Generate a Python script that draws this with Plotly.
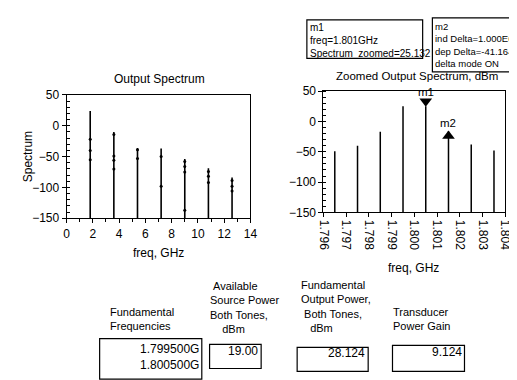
import plotly.graph_objects as go

# ---------------- data ----------------
harm_freq_ghz = [1.8, 3.6, 5.4, 7.2, 9.0, 10.8, 12.6]
harm_spectrum = [24, -10, -36, -37, -54, -69, -84]

# other tones inside each harmonic cluster (dots along the lines)
tone_freq_ghz = [1.8, 1.8, 1.8, 3.6, 3.6, 3.6, 3.6, 5.4, 5.4, 7.2, 7.2,
                 9.0, 9.0, 9.0, 9.0, 10.8, 10.8, 10.8, 12.6, 12.6, 12.6]
tone_spectrum = [-22, -40, -55, -14, -49, -56, -70, -39, -53, -50, -98,
                 -58, -66, -75, -137, -74, -82, -92, -89, -98, -106]

zoom_freq_ghz = [1.7965, 1.7975, 1.7985, 1.7995, 1.8005, 1.8015, 1.8025, 1.8035]
zoom_spectrum = [-49, -40, -17, 25.1, 25.132, -16.032, -38, -48]

x_ticks_left = [0, 2, 4, 6, 8, 10, 12, 14]
x_ticks_right = [1.796, 1.797, 1.798, 1.799, 1.800, 1.801, 1.802, 1.803, 1.804]
y_ticks = [-150, -100, -50, 0, 50]

m1_index = 4
m2_index = 5
m1_freq_label = "1.801GHz"
ind_delta = "1.000E6"

fund_freqs = ["1.799500G", "1.800500G"]
source_power_dbm = "19.00"
output_power_dbm = "28.124"
transducer_gain = "9.124"

# ---------------- helpers ----------------
W, H = 517, 380
FONT = "Liberation Sans, Arial, sans-serif"


def px(x):
    return x / W


def py(y):
    return 1 - y / H


def stems(xs, ys, base):
    sx, sy = [], []
    for x, y in zip(xs, ys):
        sx += [x, x, None]
        sy += [base, y, None]
    return sx, sy


fig = go.Figure()

# left plot
lx, ly = stems(harm_freq_ghz, harm_spectrum, y_ticks[0])
fig.add_trace(go.Scatter(x=lx, y=ly, mode="lines", line=dict(color="black", width=1.6),
                         xaxis="x", yaxis="y", hoverinfo="skip"))
fig.add_trace(go.Scatter(x=tone_freq_ghz, y=tone_spectrum, mode="markers",
                         marker=dict(color="black", size=3), xaxis="x", yaxis="y",
                         hoverinfo="skip"))

# right plot
rx, ry = stems(zoom_freq_ghz, zoom_spectrum, y_ticks[0])
fig.add_trace(go.Scatter(x=rx, y=ry, mode="lines", line=dict(color="black", width=1.5),
                         xaxis="x2", yaxis="y2", hoverinfo="skip"))

m1x, m1y = zoom_freq_ghz[m1_index], zoom_spectrum[m1_index]
m2x, m2y = zoom_freq_ghz[m2_index], zoom_spectrum[m2_index]
fig.add_trace(go.Scatter(x=[m1x], y=[m1y + 8], mode="markers",
                         marker=dict(symbol="triangle-down", size=11, color="black"),
                         xaxis="x2", yaxis="y2", hoverinfo="skip"))
fig.add_trace(go.Scatter(x=[m2x], y=[m2y - 8], mode="markers",
                         marker=dict(symbol="triangle-up", size=11, color="black"),
                         xaxis="x2", yaxis="y2", hoverinfo="skip"))

axis_common = dict(showline=True, linecolor="black", linewidth=1, mirror=True,
                   showgrid=False, zeroline=False, ticks="outside", tickcolor="black",
                   ticklen=4, tickfont=dict(family=FONT, size=12, color="black"))

fig.update_layout(
    width=W, height=H, margin=dict(l=0, r=0, t=0, b=0),
    paper_bgcolor="white", plot_bgcolor="white", showlegend=False,
    font=dict(family=FONT, size=12, color="black"),
    xaxis=dict(domain=[px(53), px(242)], range=[0, 14], tickvals=x_ticks_left,
               minor=dict(dtick=1, ticks="outside", ticklen=3, tickcolor="black"),
               anchor="y", **axis_common),
    yaxis=dict(domain=[py(211), py(83)], range=[-150, 50], tickvals=y_ticks,
               minor=dict(dtick=10, ticks="inside", ticklen=3, tickcolor="black"),
               anchor="x", **axis_common),
    xaxis2=dict(domain=[px(317), px(504)], range=[1.796, 1.804], tickvals=x_ticks_right,
                tickformat=".3f", tickangle=90, anchor="y2", **axis_common),
    yaxis2=dict(domain=[py(205), py(79)], range=[-150, 50], tickvals=y_ticks,
                minor=dict(dtick=10, ticks="inside", ticklen=3, tickcolor="black"),
                anchor="x2", **axis_common),
)

ann = []


def text(x, y, s, size=12, xanchor="center", yanchor="middle", angle=0, align="center"):
    ann.append(dict(x=px(x), y=py(y), xref="paper", yref="paper", text=s,
                    showarrow=False, xanchor=xanchor, yanchor=yanchor, textangle=angle,
                    align=align, borderpad=0,
                    font=dict(family=FONT, size=size, color="black")))


# titles and axis labels
text(149, 66, "Output Spectrum")
text(413, 63, "Zoomed Output Spectrum, dBm", size=11.5)
text(13, 147, "Spectrum", angle=-90)
text(148, 247, "freq, GHz")
text(410, 263, "freq, GHz")

# marker labels
ann.append(dict(x=m1x, y=m1y, xref="x2", yref="y2", text="m1", showarrow=False,
                yanchor="bottom", yshift=7, borderpad=0,
                font=dict(family=FONT, size=11.5, color="black")))
ann.append(dict(x=m2x, y=m2y, xref="x2", yref="y2", text="m2", showarrow=False,
                yanchor="bottom", yshift=1, borderpad=0,
                font=dict(family=FONT, size=11.5, color="black")))

# marker readout boxes
m1_lines = ["m1", "freq=" + m1_freq_label, "Spectrum_zoomed=%.3f" % m1y]
m2_lines = ["m2", "ind Delta=" + ind_delta, "dep Delta=%.3f" % (m2y - m1y), "delta mode ON"]
text(302, 6, "<br>".join(m1_lines), size=10, xanchor="left", yanchor="top", align="left")
text(431, 5, "<br>".join(m2_lines), size=9.5, xanchor="left", yanchor="top", align="left")

# bottom text blocks
text(97, 316, "Fundamental<br>Frequencies", size=11, xanchor="left", align="left")
text(199, 304, "&nbsp;Available<br>Source Power<br>Both Tones,<br>&nbsp;&nbsp;&nbsp;&nbsp;dBm",
     size=11, xanchor="left", align="left")
text(293, 303, "Fundamental<br>Output Power,<br>&nbsp;Both Tones,<br>&nbsp;&nbsp;&nbsp;dBm",
     size=11, xanchor="left", align="left")
text(388, 316, "Transducer<br>Power Gain", size=11, xanchor="left", align="left")

text(190, 355, "<br>".join(fund_freqs), xanchor="right", align="right")
text(251, 349, source_power_dbm, xanchor="right")
text(361, 351, output_power_dbm, xanchor="right")
text(460, 350, transducer_gain, xanchor="right")

fig.update_layout(annotations=ann)

# boxes
boxes = [(300, 5, 419, 45), (429, 3, 516, 59),
         (87, 336, 192, 378), (200, 342, 253, 367), (290, 345, 363, 370), (388, 343, 462, 370)]
for x0, y0, x1, y1 in boxes:
    fig.add_shape(type="rect", xref="paper", yref="paper", x0=px(x0), x1=px(x1),
                  y0=py(y1), y1=py(y0), line=dict(color="black", width=1.2))

fig.write_html("out.html")
